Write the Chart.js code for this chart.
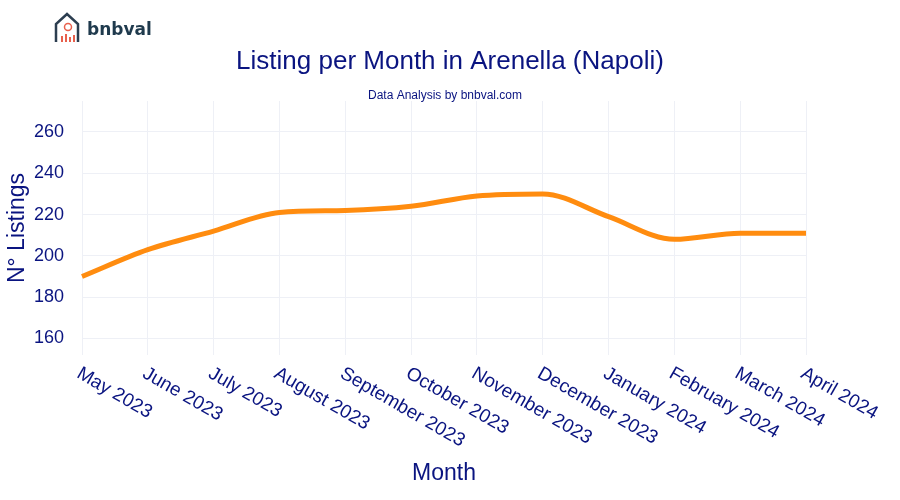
<!DOCTYPE html>
<html>
<head>
<meta charset="utf-8">
<script src="https://cdn.jsdelivr.net/npm/chart.js@4"></script>
<style>
  body { margin: 0; background: #fff; }
  canvas { display: block; }
</style>
</head>
<body>
<canvas id="chart" width="900" height="500"></canvas>
<script>
const months = ['May 2023', 'June 2023', 'July 2023', 'August 2023', 'September 2023', 'October 2023',
    'November 2023', 'December 2023', 'January 2024', 'February 2024', 'March 2024', 'April 2024'];
const listings = [190, 203, 212, 221, 222, 224, 229, 230, 219, 208, 211, 211];
const yTicks = [160, 180, 200, 220, 240, 260];

const navy = '#0a1480';

// titles, logo and rotated month labels
const decor = {
    id: 'decor',
    afterDraw(chart) {
        const ctx = chart.ctx;
        const x = chart.scales.x;
        ctx.save();

        // logo
        ctx.strokeStyle = '#2c3e50';
        ctx.lineWidth = 2.5;
        ctx.beginPath();
        ctx.moveTo(56, 42); ctx.lineTo(56, 24); ctx.lineTo(67, 14); ctx.lineTo(78, 24); ctx.lineTo(78, 42);
        ctx.stroke();
        ctx.fillStyle = '#e8604c';
        ctx.beginPath(); ctx.arc(68, 27, 3.5, 0, Math.PI * 2); ctx.strokeStyle = '#e8604c'; ctx.lineWidth = 1.5; ctx.stroke();
        ctx.fillRect(61, 36, 2, 6); ctx.fillRect(65, 34, 2, 8); ctx.fillRect(69, 37, 2, 5); ctx.fillRect(73, 35, 2, 7);
        ctx.fillStyle = '#1f3a4d';
        ctx.font = 'bold 17px "DejaVu Sans", sans-serif';
        ctx.textAlign = 'left';
        ctx.textBaseline = 'middle';
        ctx.fillText('bnbval', 87, 31);

        // title + subtitle
        ctx.fillStyle = navy;
        ctx.textAlign = 'center';
        ctx.font = '26px "Liberation Sans", Arial, sans-serif';
        ctx.fillText('Listing per Month in Arenella (Napoli)', 450, 62);
        ctx.font = '12px "Liberation Sans", Arial, sans-serif';
        ctx.fillText('Data Analysis by bnbval.com', 445, 96);

        // month labels
        ctx.font = '19px "Liberation Sans", Arial, sans-serif';
        ctx.textAlign = 'left';
        ctx.textBaseline = 'top';
        months.forEach((m, i) => {
            const px = x.getPixelForTick(i);
            ctx.save();
            ctx.translate(px + 1, chart.chartArea.bottom + 9);
            ctx.rotate(Math.PI / 6);
            ctx.fillText(m, 0, 0);
            ctx.restore();
        });

        ctx.font = '23px "Liberation Sans", Arial, sans-serif';
        ctx.textAlign = 'center';
        ctx.textBaseline = 'middle';
        ctx.fillText('Month', 444, 474);
        ctx.restore();
    }
};

new Chart(document.getElementById('chart'), {
    type: 'line',
    data: {
        labels: months,
        datasets: [{
            data: listings,
            borderColor: '#ff8c0f',
            borderWidth: 5,
            pointRadius: 0,
            tension: 0.4,
            cubicInterpolationMode: 'monotone',
            fill: false
        }]
    },
    options: {
        responsive: false,
        devicePixelRatio: 1,
        animation: false,
        layout: { padding: { top: 101, right: 94 } },
        plugins: { legend: { display: false }, title: { display: false }, tooltip: { enabled: false } },
        scales: {
            x: {
                offset: false,
                grid: { color: '#eef0f6', drawTicks: false },
                border: { display: false },
                ticks: { display: false },
                afterFit(scale) { scale.height = 145; }
            },
            y: {
                min: 152,
                max: 275,
                afterBuildTicks(scale) { scale.ticks = yTicks.map(v => ({ value: v })); },
                grid: { color: '#eef0f6', drawTicks: false },
                border: { display: false },
                ticks: { color: navy, font: { size: 18, family: '"Liberation Sans", Arial' }, padding: 18 },
                title: { display: true, text: 'N° Listings', color: navy, font: { size: 23, family: '"Liberation Sans", Arial' } },
                afterFit(scale) { scale.width = 82; }
            }
        }
    },
    plugins: [decor]
});
</script>
</body>
</html>
